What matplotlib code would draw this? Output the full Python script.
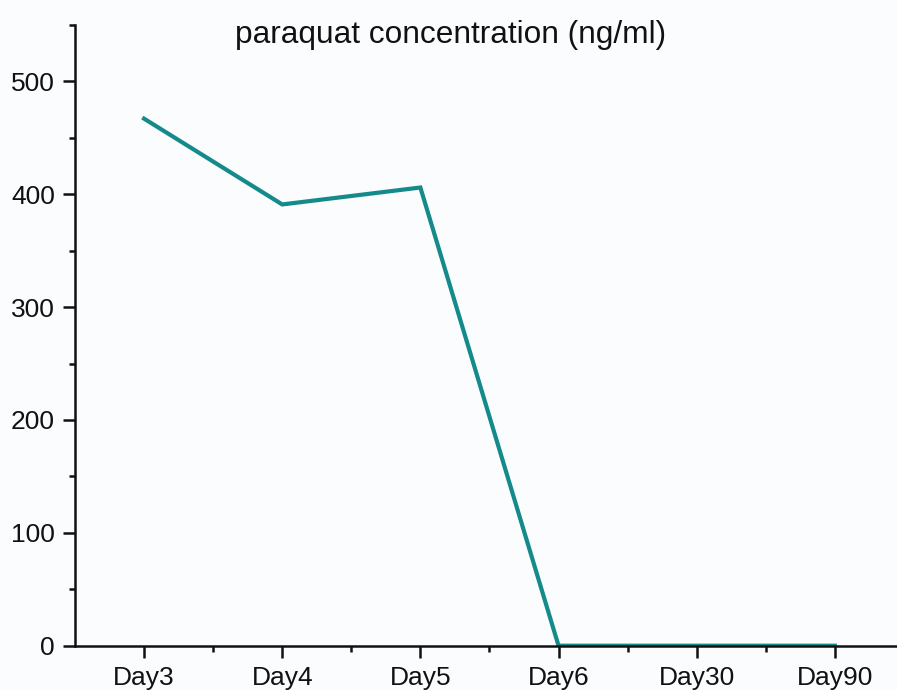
import matplotlib
matplotlib.use('Agg')
import matplotlib.pyplot as plt
from matplotlib.ticker import MultipleLocator

days = ['Day3', 'Day4', 'Day5', 'Day6', 'Day30', 'Day90']
concentration = [467, 391, 406, 0, 0, 0]

plt.rcParams['font.family'] = ['Liberation Sans', 'DejaVu Sans']

fig = plt.figure(figsize=(8.97, 6.9), dpi=100)
fig.patch.set_facecolor('#fbfcfe')
ax = fig.add_axes([75 / 897, 1 - 645.7 / 690, 822 / 897, (645.7 - 25) / 690])
ax.set_facecolor('#fbfcfe')

x = list(range(len(days)))
ax.plot(x, concentration, color='#148a8a', linewidth=3.0, solid_joinstyle='miter')

ax.set_xlim(-0.5, 5.45)
ax.set_ylim(0, 550)
ax.set_xticks(x)
ax.set_xticklabels(days)
ax.set_xticks([i + 0.5 for i in x[:-1]], minor=True)
ax.yaxis.set_major_locator(MultipleLocator(100))
ax.yaxis.set_minor_locator(MultipleLocator(50))

for side in ['top', 'right']:
    ax.spines[side].set_visible(False)
for side in ['left', 'bottom']:
    ax.spines[side].set_linewidth(1.8)
    ax.spines[side].set_color('#111111')

ax.tick_params(which='major', direction='out', length=8.5, width=1.8, labelsize=19, colors='#111111')
ax.tick_params(which='minor', direction='out', length=4.5, width=1.8, colors='#111111')
ax.tick_params(axis='x', which='major', pad=6)
ax.tick_params(axis='y', which='major', pad=6)

fig.text(451 / 897, 1 - 35 / 690, 'paraquat concentration (ng/ml)', ha='center', va='center',
         fontsize=22.8, color='#111111')

fig.savefig('out.png', dpi=100, facecolor=fig.get_facecolor())
